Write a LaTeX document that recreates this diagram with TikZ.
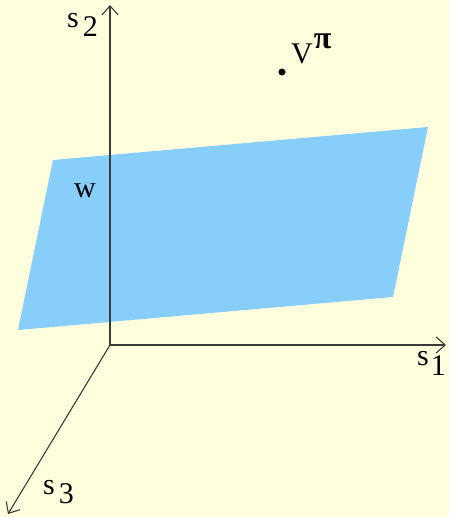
\documentclass[tikz,border=0pt]{standalone}
\usepackage{fontspec}
\setmainfont{Liberation Serif}
\usetikzlibrary{arrows.meta}
\definecolor{bgyel}{HTML}{FFFFDE}
\definecolor{planeblue}{HTML}{87CEFA}
\definecolor{axisgray}{HTML}{3A3A3A}
\tikzset{
  axis/.style={draw=axisgray, line width=1.1pt, -{Straight Barb[length=9pt,width=16pt]}},
  lbl/.style={font=\fontsize{30}{32}\selectfont, inner sep=0pt},
}
\begin{document}
\begin{tikzpicture}[x=1pt,y=-1pt]
\fill[bgyel] (0,0) rectangle (449,517);
\useasboundingbox (0,0) rectangle (449,517);
\coordinate (O) at (110,345);
\coordinate (p1) at (53,160);
\coordinate (p2) at (428,127);
\coordinate (p3) at (393,297);
\coordinate (p4) at (18,330);
\fill[planeblue] (p1) -- (p2) -- (p3) -- (p4) -- cycle;
\coordinate (e2) at (110,5);
\coordinate (e1) at (446,345);
\coordinate (e3) at (8,514);
\draw[axis] (O) -- (e2);
\draw[axis] (O) -- (e1);
\draw[axis] (O) -- (e3);
\node[circle, fill=black, inner sep=0pt, minimum size=7pt] (v) at (282,72) {};
\node[lbl, anchor=base west] (vl) at (291,63) {V\hspace{1pt}\raisebox{15pt}{\fontsize{32}{34}\selectfont\bfseries π}};
\node[lbl, anchor=base west] (s2) at (67,27) {s\hspace{4pt}\raisebox{-9pt}{2}};
\node[lbl, anchor=base west] (s1) at (417,365) {s\hspace{2pt}\raisebox{-10pt}{1}};
\node[lbl, anchor=base west] (s3) at (43,494) {s\hspace{4pt}\raisebox{-9pt}{3}};
\node[lbl, anchor=base west] (w) at (74,197) {w};
\end{tikzpicture}
\end{document}
